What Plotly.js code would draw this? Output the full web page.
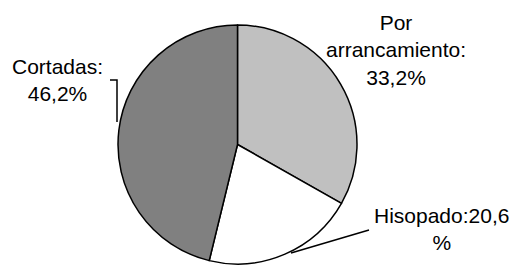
<!DOCTYPE html>
<html>
<head>
<meta charset="utf-8">
<script src="https://cdn.plot.ly/plotly-3.0.1.min.js"></script>
<style>html,body{margin:0;padding:0;background:#fff;}#chart{width:512px;height:265px;}</style>
</head>
<body>
<div id="chart"></div>
<script>
// Data
const categories = ["Por arrancamiento", "Hisopado", "Cortadas"];
const values = [33.2, 20.6, 46.2];
const labelTexts = ["Por<br>arrancamiento:<br>33,2%", "Hisopado:20,6<br>%", "Cortadas:<br>46,2%"];
const sliceColors = ["#c0c0c0", "#ffffff", "#808080"];

const W = 512, H = 265;
const px = x => x / W;
const py = y => 1 - y / H;

// label placement (pixels, layout only)
const labelPos = [[396, 50], [441, 229], [57, 80]];

const annotations = labelTexts.map((t, i) => ({
  text: t, xref: 'paper', yref: 'paper',
  x: px(labelPos[i][0]), y: py(labelPos[i][1]),
  xanchor: 'center', yanchor: 'middle', align: 'center',
  showarrow: false,
  font: {family: 'Arial, "Liberation Sans", sans-serif', size: 21, color: '#000'}
}));

const shapes = [
  {type: 'path', xref: 'paper', yref: 'paper',
   path: `M ${px(110)} ${py(80)} L ${px(117)} ${py(80)} L ${px(117)} ${py(122)}`,
   line: {color: '#000', width: 1.5}},
  {type: 'line', xref: 'paper', yref: 'paper',
   x0: px(369), y0: py(230), x1: px(291), y1: py(253),
   line: {color: '#000', width: 1.5}}
];

const trace = {
  type: 'pie',
  labels: categories,
  values: values,
  sort: false,
  direction: 'clockwise',
  rotation: 0,
  textinfo: 'none',
  hoverinfo: 'label+percent',
  marker: {colors: sliceColors, line: {color: '#000', width: 1.5}},
  domain: {x: [px(118), px(357)], y: [1 - 264 / H, 1 - 25 / H]},
  showlegend: false
};

Plotly.newPlot('chart', [trace], {
  width: W, height: H,
  margin: {l: 0, r: 0, t: 0, b: 0},
  paper_bgcolor: '#fff',
  showlegend: false,
  annotations: annotations,
  shapes: shapes
}, {staticPlot: true});
</script>
</body>
</html>
